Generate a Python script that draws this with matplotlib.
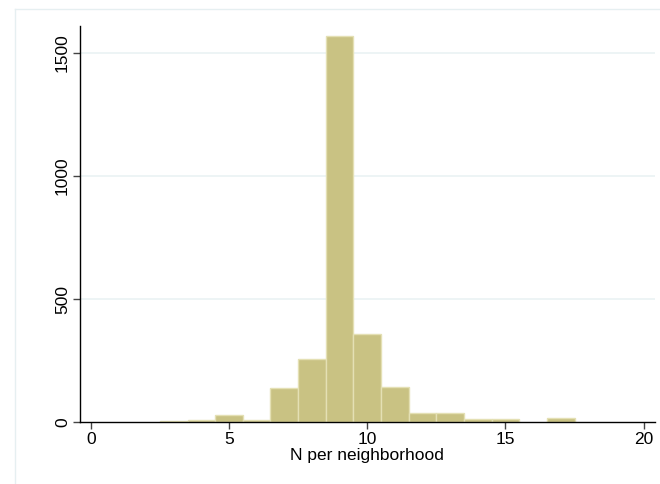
import matplotlib
matplotlib.use("Agg")
import matplotlib.pyplot as plt
from matplotlib.lines import Line2D

plt.rcParams['font.family'] = ['Liberation Sans', 'DejaVu Sans']

bin_centers = [3, 4, 5, 6, 7, 8, 9, 10, 11, 12, 13, 14, 15, 17]
counts = [4, 10, 31, 11, 140, 257, 1567, 359, 143, 36, 39, 12, 15, 16]
x_ticks = [0, 5, 10, 15, 20]
y_ticks = [0, 500, 1000, 1500]
x_label = "N per neighborhood"

fig = plt.figure(figsize=(6.6, 4.84), dpi=100)
fig.patch.set_facecolor('white')
# faint outer graph-region frame (top and left edges visible)
fy = 1 - 8.5/484
fx = 14.5/660
fig.lines.append(Line2D([fx, 1.0], [fy, fy], transform=fig.transFigure,
                        color='#e6eff1', linewidth=1.0))
fig.lines.append(Line2D([fx, fx], [0.0, fy], transform=fig.transFigure,
                        color='#e6eff1', linewidth=1.0))

ax = fig.add_axes([79.7/660, 1 - 422.3/484, (655-79.7)/660, (422.3-26)/484])
ax.bar(bin_centers, counts, width=1.0, align='center',
       color='#c9c283', edgecolor='#e4e0b4', linewidth=1.0, zorder=2)

ax.set_xlim(-0.4, 20.41)
ax.set_ylim(0, 1608)
ax.set_xticks(x_ticks)
ax.set_yticks(y_ticks)
for v in y_ticks[1:]:
    ax.axhline(v, color='#eaf2f3', linewidth=1.2, zorder=1)

for s in ['top', 'right']:
    ax.spines[s].set_visible(False)
for s in ['left', 'bottom']:
    ax.spines[s].set_color('#000000')
    ax.spines[s].set_linewidth(1.0)

ax.tick_params(axis='both', direction='out', length=5, width=1.0,
               color='#444444', labelsize=12.5, labelcolor='black', pad=2)
for lbl in ax.get_yticklabels():
    lbl.set_rotation(90)
    lbl.set_va('center')
ax.set_xlabel(x_label, fontsize=12.5, labelpad=1)

fig.savefig('out.png', dpi=100, facecolor='white')
